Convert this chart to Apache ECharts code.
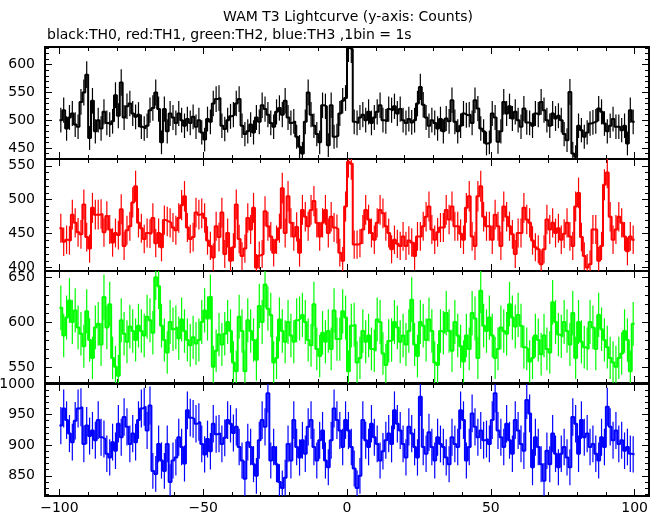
<!DOCTYPE html>
<html><head><meta charset="utf-8">
<script src="https://cdn.jsdelivr.net/npm/echarts@6/dist/echarts.min.js"></script>
<style>html,body{margin:0;padding:0;background:#fff}#c{width:662px;height:515px}</style>
</head><body><div id="c"></div>
<script>
// bin start times (1 bin = 1 s)
const binStart = -100, binCount = 200;
const times = [];
for (let i = 0; i < binCount; i++) times.push(binStart + i);

// TH0 (black)
const th0 = [
500,518,485,505,512,492,488,533,550,582,
468,535,480,500,485,515,495,492,498,545,
508,568,505,525,530,512,506,510,488,485,
490,518,522,550,520,460,520,480,512,505,
495,512,500,490,502,495,506,488,500,478,
465,502,497,530,538,540,490,484,500,507,
510,530,538,490,475,480,492,478,505,497,
527,520,510,495,488,515,522,510,535,505,
495,498,470,452,440,497,550,510,490,475,
460,527,525,455,527,470,472,512,535,540,
630,628,497,495,505,510,500,515,495,505,
515,527,500,498,520,518,525,512,520,500,
495,502,496,500,530,560,528,505,490,500,
495,485,502,480,503,498,536,497,480,490,
512,509,510,495,536,521,485,480,458,460,
512,505,461,480,533,512,525,503,515,500,
488,521,496,495,490,512,510,533,518,500,
490,512,503,508,500,475,464,551,440,434,
490,482,470,478,494,496,498,521,515,494,
480,490,502,488,488,482,490,458,518,497];

// TH1 (red)
const th1 = [
458,438,441,440,478,466,452,449,493,445,
428,488,478,478,479,452,476,456,437,451,
448,486,432,455,461,496,520,466,458,442,
451,450,473,436,451,430,470,468,466,459,
455,473,492,505,459,442,445,481,478,480,
473,440,432,415,461,445,481,420,451,410,
430,493,442,417,428,473,456,488,400,418,
420,483,461,446,422,441,458,517,451,505,
466,446,460,422,485,475,461,485,498,466,
446,466,485,451,475,459,457,422,410,490,
556,553,434,434,436,456,485,471,451,441,
466,485,480,461,451,427,441,435,432,446,
432,440,437,417,446,446,461,475,490,456,
441,452,459,459,485,471,490,461,461,450,
441,488,505,446,432,505,520,475,461,461,
441,478,461,432,490,475,461,449,420,451,
451,488,471,466,440,430,427,405,427,471,
456,466,451,458,441,450,466,446,432,490,
510,445,417,400,405,456,456,410,432,522,
540,475,441,456,475,466,446,424,446,441];

// TH2 (green)
const th2 = [
616,585,605,624,600,613,594,587,573,612,
580,560,594,598,575,628,594,620,560,550,
540,602,587,578,595,590,580,596,590,585,
606,602,588,650,640,596,580,566,600,592,
594,582,603,590,580,574,583,576,580,600,
613,604,628,550,568,586,575,587,600,590,
555,545,606,590,545,602,590,580,558,618,
600,642,615,608,555,560,603,590,578,600,
585,578,602,604,608,600,580,574,620,570,
562,588,578,590,570,613,581,581,612,605,
545,596,597,555,560,590,578,585,570,568,
603,600,565,552,579,580,600,594,578,585,
575,590,625,575,562,600,596,580,603,590,
555,552,590,588,610,590,568,600,585,573,
556,585,570,610,604,560,635,596,590,605,
585,560,570,594,590,587,620,605,595,608,
596,572,570,556,560,585,580,564,585,570,
566,622,600,586,584,600,590,575,610,560,
600,578,572,570,600,594,570,608,592,580,
572,560,555,550,560,565,590,580,545,598];

// TH3 (blue)
const th3 = [
932,960,941,919,905,940,960,962,902,932,
915,924,908,941,913,910,886,880,905,891,
935,913,946,930,902,919,905,941,960,963,
924,965,858,853,902,875,858,902,840,875,
880,913,897,870,957,945,943,935,938,902,
885,910,890,935,918,919,902,912,941,935,
920,930,897,875,845,905,897,869,850,908,
941,930,985,875,897,869,840,830,847,902,
875,941,897,880,908,886,930,941,897,875,
908,924,875,864,908,960,941,924,897,941,
924,897,862,830,850,941,908,897,935,913,
902,875,890,908,919,902,957,935,924,902,
880,930,919,897,880,979,897,886,921,897,
875,913,902,897,880,869,913,902,897,957,
941,875,897,952,930,913,924,908,910,902,
941,985,924,913,897,935,908,886,941,924,
902,891,974,952,864,913,897,869,842,891,
869,919,886,864,886,897,880,864,946,935,
886,941,913,919,897,902,886,875,913,897,
963,930,908,924,902,908,891,897,886,885];

// axis tick labels
const xMajorTicks = [-100, -50, 0, 50, 100];
const xMinorTicks = [-100,-90,-80,-70,-60,-50,-40,-30,-20,-10,0,10,20,30,40,50,60,70,80,90,100];
const yMajorTicks = [
  [450, 500, 550, 600],
  [400, 450, 500, 550],
  [550, 600, 650],
  [850, 900, 950, 1000]
];
const yRanges = [[430, 632], [395, 560], [532, 657], [817, 1000]];
const seriesList = [th0, th1, th2, th3];
const colors = ['#000000', '#ff0000', '#00ff00', '#0000ff'];

function minorTicks(r) {
  const out = [];
  for (let v = Math.ceil(r[0] / 10) * 10; v <= r[1]; v += 10) out.push(v);
  return out;
}

const FONT = 'DejaVu Sans';
const grids = [], xAxes = [], yAxes = [], series = [];
const panelTops = [47, 159, 271, 384];
const panelH = 112;

for (let g = 0; g < 4; g++) {
  grids.push({left: 45, width: 604, top: panelTops[g], height: panelH, outerBoundsMode: 'none',
    containLabel: false,
    show: true, borderColor: '#000', borderWidth: 2, backgroundColor: 'transparent'});
  const xBase = {gridIndex: g, type: 'value', min: -105, max: 105,
    axisLine: {show: false, onZero: false}, splitLine: {show: false}};
  const xi = xAxes.length;
  ['bottom', 'top'].forEach(pos => {
    xAxes.push(Object.assign({}, xBase, {position: pos,
      axisTick: {show: true, inside: true, length: 7, customValues: xMajorTicks, lineStyle: {color: '#000', width: 1}},
      axisLabel: {show: pos === 'bottom' && g === 3, customValues: xMajorTicks, margin: 5,
        fontFamily: FONT, fontSize: 14, color: '#000',
        formatter: v => v < 0 ? '\u2212' + (-v) : String(v)}}));
    xAxes.push(Object.assign({}, xBase, {position: pos,
      axisTick: {show: true, inside: true, length: 4, customValues: xMinorTicks, lineStyle: {color: '#000', width: 1}},
      axisLabel: {show: false}}));
  });
  const r = yRanges[g];
  const yBase = {gridIndex: g, type: 'value', min: r[0], max: r[1],
    axisLine: {show: false, onZero: false}, splitLine: {show: false}};
  const yi = yAxes.length;
  ['left', 'right'].forEach(pos => {
    yAxes.push(Object.assign({}, yBase, {position: pos,
      axisTick: {show: true, inside: true, length: 7, customValues: yMajorTicks[g], lineStyle: {color: '#000', width: 1}},
      axisLabel: {show: pos === 'left', customValues: yMajorTicks[g], margin: 10,
        fontFamily: FONT, fontSize: 14, color: '#000', formatter: v => String(v)}}));
    yAxes.push(Object.assign({}, yBase, {position: pos,
      axisTick: {show: true, inside: true, length: 4, customValues: minorTicks(r), lineStyle: {color: '#000', width: 1}},
      axisLabel: {show: false}}));
  });

  const vals = seriesList[g];
  const stepData = vals.map((v, i) => [times[i], v]);
  stepData.push([times[times.length - 1] + 1, vals[vals.length - 1]]);
  series.push({type: 'line', xAxisIndex: xi, yAxisIndex: yi, step: 'end',
    data: stepData, showSymbol: false, symbol: 'none', clip: true, silent: true,
    lineStyle: {color: colors[g], width: 2}, animation: false});
  const color = colors[g];
  series.push({type: 'custom', xAxisIndex: xi, yAxisIndex: yi, clip: true, silent: true, animation: false,
    data: vals.map((v, i) => [times[i] + 0.5, v, Math.sqrt(v)]),
    renderItem: (params, api) => {
      const x = api.value(0), y = api.value(1), e = api.value(2);
      const p1 = api.coord([x, y - e]), p2 = api.coord([x, y + e]);
      return {type: 'line', shape: {x1: p1[0], y1: p1[1], x2: p2[0], y2: p2[1]},
        style: {stroke: color, lineWidth: 1.2}};
    }});
}

const chart = echarts.init(document.getElementById('c'), null, {renderer: 'canvas'});
chart.setOption({
  animation: false,
  backgroundColor: '#fff',
  grid: grids, xAxis: xAxes, yAxis: yAxes, series: series,
  graphic: [
    {type: 'text', x: 348, y: 17, style: {text: 'WAM T3 Lightcurve (y-axis: Counts)',
      fontFamily: FONT, fontSize: 14, fill: '#000', textAlign: 'center', textVerticalAlign: 'middle'}},
    {type: 'text', x: 47, y: 35, style: {text: 'black:TH0, red:TH1, green:TH2, blue:TH3 ,1bin = 1s',
      fontFamily: FONT, fontSize: 14, fill: '#000', textAlign: 'left', textVerticalAlign: 'middle'}}
  ]
});
</script></body></html>
